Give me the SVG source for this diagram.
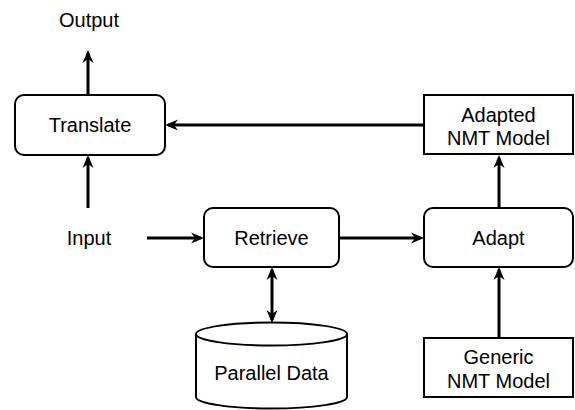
<svg xmlns="http://www.w3.org/2000/svg" width="575" height="410" viewBox="0 0 575 410">
<defs>
<style>
.box{fill:#fff;stroke:#000;stroke-width:2}
.t{font-family:"Liberation Sans",Arial,sans-serif;font-size:20px;fill:#000;text-anchor:middle}
.c{fill:none;stroke:#000;stroke-width:3}
</style>
<marker id="ah" markerUnits="userSpaceOnUse" markerWidth="14" markerHeight="12" refX="10" refY="6" orient="auto-start-reverse" viewBox="0 0 14 12">
<path d="M0,0.5 L13,6 L0,11.5 L4,6 z" fill="#000"/>
</marker>
</defs>
<g id="connectors">
<line class="c" x1="88" y1="95" x2="88" y2="53" marker-end="url(#ah)"/>
<line class="c" x1="88" y1="208" x2="88" y2="158" marker-end="url(#ah)"/>
<line class="c" x1="424" y1="125" x2="168" y2="125" marker-end="url(#ah)"/>
<line class="c" x1="147" y1="238" x2="201" y2="238" marker-end="url(#ah)"/>
<line class="c" x1="339" y1="238" x2="421" y2="238" marker-end="url(#ah)"/>
<line class="c" x1="499" y1="208" x2="499" y2="158" marker-end="url(#ah)"/>
<line class="c" x1="499" y1="338" x2="499" y2="270" marker-end="url(#ah)"/>
<line class="c" x1="272" y1="270" x2="272" y2="320" marker-start="url(#ah)" marker-end="url(#ah)"/>
</g>
<g id="output"><text class="t" x="89" y="27">Output</text></g>
<g id="input"><text class="t" x="89" y="245">Input</text></g>
<g id="translate">
<rect class="box" x="15" y="95" width="150" height="60" rx="9"/>
<text class="t" x="90" y="132">Translate</text>
</g>
<g id="retrieve">
<rect class="box" x="204" y="208" width="135" height="59" rx="9"/>
<text class="t" x="271.5" y="245">Retrieve</text>
</g>
<g id="adapt">
<rect class="box" x="424" y="208" width="149" height="59" rx="9"/>
<text class="t" x="498.5" y="245">Adapt</text>
</g>
<g id="adapted">
<rect class="box" x="424" y="95" width="149" height="59"/>
<text class="t" x="498.5" y="122">Adapted</text>
<text class="t" x="498.5" y="145">NMT Model</text>
</g>
<g id="generic">
<rect class="box" x="424" y="338" width="149" height="59"/>
<text class="t" x="498.5" y="364">Generic</text>
<text class="t" x="498.5" y="388">NMT Model</text>
</g>
<g id="parallel">
<path class="box" d="M196,334 a75.5,11.5 0 0 1 151,0 v63 a75.5,11.5 0 0 1 -151,0 z"/>
<path d="M196,334 a75.5,11.5 0 0 0 151,0" fill="none" stroke="#000" stroke-width="2"/>
<text class="t" x="271.5" y="380">Parallel Data</text>
</g>
</svg>
